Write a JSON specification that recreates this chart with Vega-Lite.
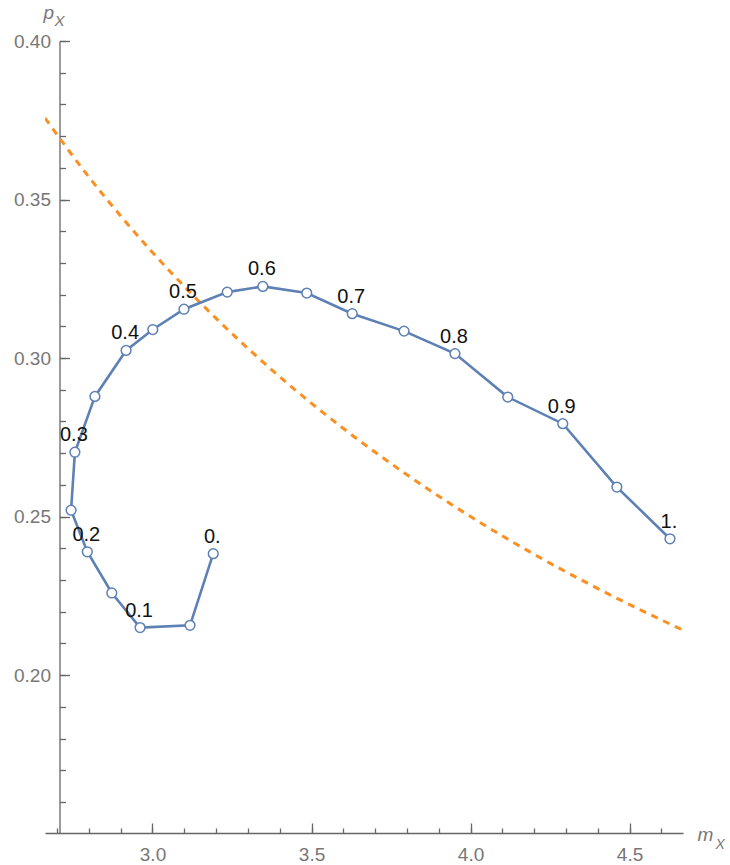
{
  "$schema": "https://vega.github.io/schema/vega-lite/v6.json",
  "autosize": {"type": "none"},
  "width": 638,
  "height": 792,
  "padding": {"left": 45, "top": 41, "right": 47, "bottom": 32},
  "background": "white",
  "config": {"view": {"stroke": null}},
  "datasets": {
    "curve": [
      {"t": 0.00, "m": 3.191, "p": 0.2383, "label": "0."},
      {"t": 0.05, "m": 3.118, "p": 0.2157},
      {"t": 0.10, "m": 2.961, "p": 0.2150, "label": "0.1"},
      {"t": 0.15, "m": 2.872, "p": 0.2259},
      {"t": 0.20, "m": 2.795, "p": 0.2389, "label": "0.2"},
      {"t": 0.25, "m": 2.744, "p": 0.2520},
      {"t": 0.30, "m": 2.756, "p": 0.2703, "label": "0.3"},
      {"t": 0.35, "m": 2.819, "p": 0.2879},
      {"t": 0.40, "m": 2.917, "p": 0.3024, "label": "0.4"},
      {"t": 0.45, "m": 3.001, "p": 0.3090},
      {"t": 0.50, "m": 3.099, "p": 0.3154, "label": "0.5"},
      {"t": 0.55, "m": 3.235, "p": 0.3208},
      {"t": 0.60, "m": 3.347, "p": 0.3226, "label": "0.6"},
      {"t": 0.65, "m": 3.485, "p": 0.3205},
      {"t": 0.70, "m": 3.628, "p": 0.3140, "label": "0.7"},
      {"t": 0.75, "m": 3.791, "p": 0.3085},
      {"t": 0.80, "m": 3.951, "p": 0.3014, "label": "0.8"},
      {"t": 0.85, "m": 4.117, "p": 0.2877},
      {"t": 0.90, "m": 4.290, "p": 0.2793, "label": "0.9"},
      {"t": 0.95, "m": 4.460, "p": 0.2593},
      {"t": 1.00, "m": 4.627, "p": 0.2430, "label": "1."}
    ],
    "bound": [
      {"m": 2.662, "p": 0.3757},
      {"m": 2.8, "p": 0.3571},
      {"m": 2.9, "p": 0.3448},
      {"m": 3.0, "p": 0.3333},
      {"m": 3.1, "p": 0.3226},
      {"m": 3.2, "p": 0.3125},
      {"m": 3.4, "p": 0.2941},
      {"m": 3.6, "p": 0.2778},
      {"m": 3.8, "p": 0.2632},
      {"m": 4.0, "p": 0.2500},
      {"m": 4.2, "p": 0.2381},
      {"m": 4.4, "p": 0.2273},
      {"m": 4.6, "p": 0.2174},
      {"m": 4.668, "p": 0.2142}
    ]
  },
  "resolve": {"axis": {"x": "independent", "y": "independent"}},
  "layer": [
    {
      "data": {"name": "bound"},
      "mark": {"type": "line", "color": "#FA8F22", "strokeWidth": 3, "strokeDash": [7, 6], "interpolate": "monotone", "clip": true},
      "encoding": {
        "x": {
          "field": "m", "type": "quantitative",
          "scale": {"domain": [2.662, 4.668], "nice": false, "zero": false},
          "axis": {
            "orient": "bottom",
            "values": [3.0, 3.5, 4.0, 4.5],
            "format": ".1f",
            "grid": false,
            "domainColor": "#666666", "domainWidth": 1.3,
            "tickColor": "#666666", "tickWidth": 1.3, "tickSize": -10,
            "labelFont": "Liberation Sans", "labelFontSize": 19, "labelColor": "#777777", "labelPadding": 22,
            "title": "m", "titleFont": "Liberation Sans", "titleFontSize": 19, "titleFontStyle": "italic", "titleFontWeight": "normal",
            "titleColor": "#777777", "titleAlign": "left", "titleBaseline": "alphabetic", "titleAngle": 0,
            "titleX": 652, "titleY": 7
          }
        },
        "y": {
          "field": "p", "type": "quantitative",
          "scale": {"domain": [0.1502, 0.40], "nice": false, "zero": false},
          "axis": {
            "orient": "left",
            "offset": -14.5,
            "values": [0.20, 0.25, 0.30, 0.35, 0.40],
            "format": ".2f",
            "grid": false,
            "domainColor": "#666666", "domainWidth": 1.3,
            "tickColor": "#666666", "tickWidth": 1.3, "tickSize": -10,
            "labelFont": "Liberation Sans", "labelFontSize": 19, "labelColor": "#777777", "labelPadding": 19,
            "title": "p", "titleFont": "Liberation Sans", "titleFontSize": 19, "titleFontStyle": "italic", "titleFontWeight": "normal",
            "titleColor": "#777777", "titleAlign": "left", "titleBaseline": "alphabetic", "titleAngle": 0,
            "titleX": -16.5, "titleY": -23
          }
        }
      }
    },
    {
      "data": {"name": "curve"},
      "mark": {"type": "line", "color": "#5E81B5", "strokeWidth": 2.6},
      "encoding": {
        "order": {"field": "t", "type": "quantitative"},
        "x": {
          "field": "m", "type": "quantitative",
          "axis": {
            "orient": "bottom",
            "values": [2.7, 2.8, 2.9, 3.0, 3.1, 3.2, 3.3, 3.4, 3.5, 3.6, 3.7, 3.8, 3.9, 4.0, 4.1, 4.2, 4.3, 4.4, 4.5, 4.6],
            "labels": false, "domain": false, "grid": false,
            "tickColor": "#666666", "tickWidth": 1.3, "tickSize": -5,
            "title": "X", "titleFont": "Liberation Sans", "titleFontSize": 14, "titleFontStyle": "italic", "titleFontWeight": "normal",
            "titleColor": "#777777", "titleAlign": "left", "titleBaseline": "alphabetic", "titleAngle": 0,
            "titleX": 670, "titleY": 15
          }
        },
        "y": {
          "field": "p", "type": "quantitative",
          "axis": {
            "orient": "left",
            "offset": -14.5,
            "values": [0.16, 0.17, 0.18, 0.19, 0.20, 0.21, 0.22, 0.23, 0.24, 0.25, 0.26, 0.27, 0.28, 0.29, 0.30, 0.31, 0.32, 0.33, 0.34, 0.35, 0.36, 0.37, 0.38, 0.39, 0.40],
            "labels": false, "domain": false, "grid": false,
            "tickColor": "#666666", "tickWidth": 1.3, "tickSize": -6,
            "title": "X", "titleFont": "Liberation Sans", "titleFontSize": 15, "titleFontStyle": "italic", "titleFontWeight": "normal",
            "titleColor": "#777777", "titleAlign": "left", "titleBaseline": "alphabetic", "titleAngle": 0,
            "titleX": -5.5, "titleY": -16
          }
        }
      }
    },
    {
      "data": {"name": "curve"},
      "mark": {"type": "point", "shape": "circle", "filled": true, "fill": "white", "stroke": "#5E81B5", "strokeWidth": 1.5, "size": 95, "opacity": 1},
      "encoding": {
        "x": {"field": "m", "type": "quantitative", "axis": null},
        "y": {"field": "p", "type": "quantitative", "axis": null}
      }
    },
    {
      "data": {"name": "curve"},
      "transform": [{"filter": "isValid(datum.label)"}],
      "mark": {"type": "text", "font": "Liberation Sans", "fontSize": 20, "color": "#111111", "baseline": "middle", "align": "center", "dy": -17, "dx": -1},
      "encoding": {
        "x": {"field": "m", "type": "quantitative", "axis": null},
        "y": {"field": "p", "type": "quantitative", "axis": null},
        "text": {"field": "label"}
      }
    }
  ]
}
